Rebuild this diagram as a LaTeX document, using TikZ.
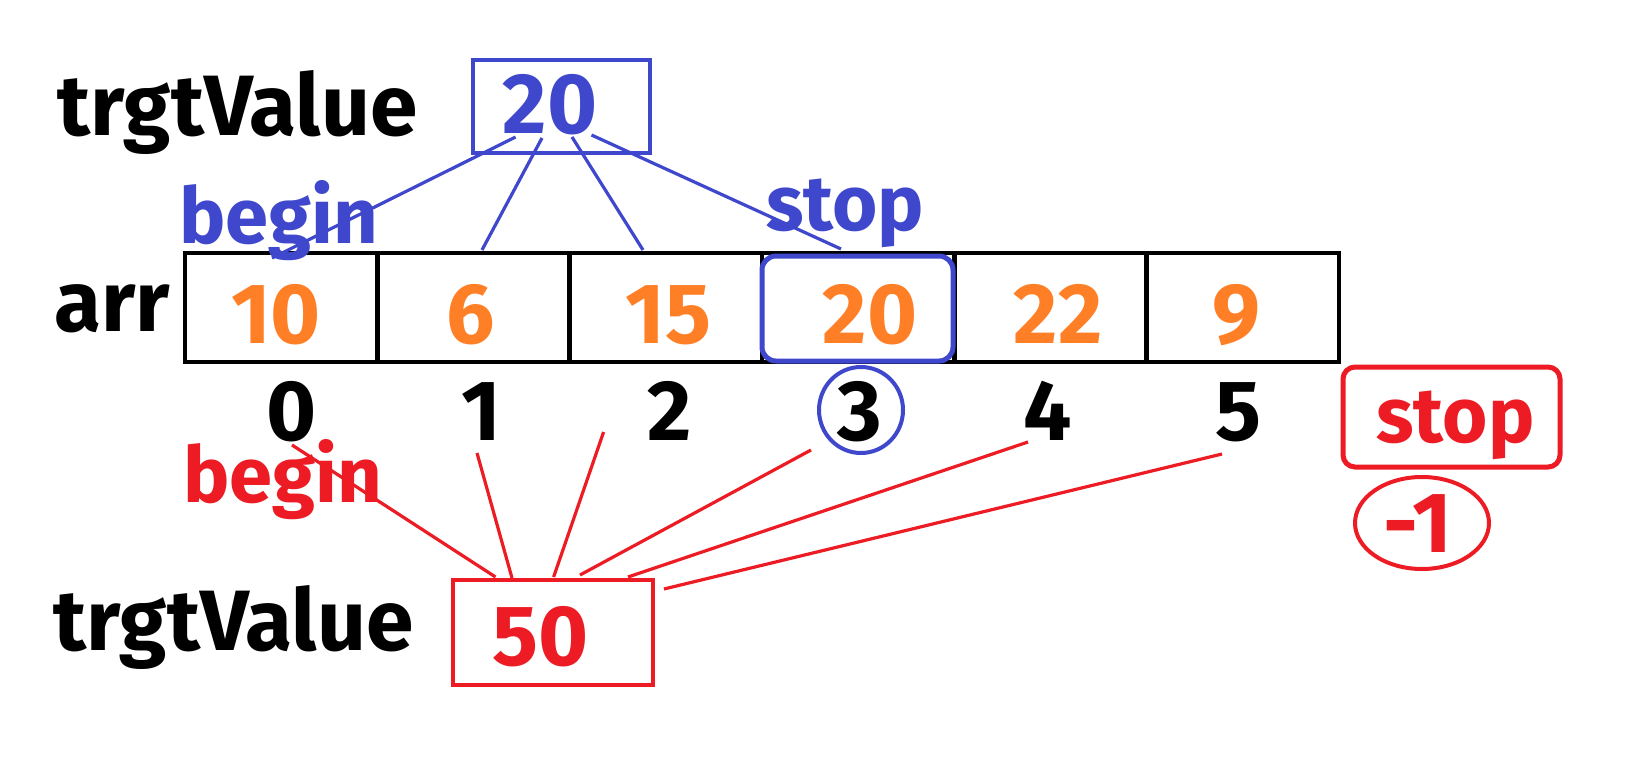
\documentclass[tikz,border=0pt]{standalone}
\usepackage{fontspec}
\setmainfont{Fira Sans}
\usetikzlibrary{shapes.geometric}
\definecolor{pblue}{HTML}{3F48CC}
\definecolor{porange}{HTML}{FF7F27}
\definecolor{pred}{HTML}{ED1C24}
\tikzset{
  txt/.style={inner sep=0pt, font=\fontsize{43}{43}\selectfont\bfseries},
  small/.style={inner sep=0pt, font=\fontsize{39}{39}\selectfont\bfseries},
  cell/.style={draw=black, line width=2.4bp, minimum width=96.17bp, minimum height=54.5bp, inner sep=0pt},
  bline/.style={draw=pblue, line width=1.6bp},
  rline/.style={draw=pred, line width=1.6bp},
}
\begin{document}
\begin{tikzpicture}[x=0.5bp,y=-0.5bp]
\useasboundingbox[fill=white] (0,0) rectangle (1634,784);
% top target
\node[txt, anchor=base west] (tv1lbl) at (57,135) {trgtValue};
\node[draw=pblue, line width=2bp, minimum width=88.5bp, minimum height=46.5bp, inner sep=0pt] (tv1) at (561.5,106.5) {};
\node[txt, text=pblue, anchor=base] (tv1val) at (550,133) {20};
% array
\node[txt, anchor=base west] (arr) at (54,331) {arr};
\foreach \i/\x in {0/281.2,1/473.5,2/665.8,3/858.2,4/1050.5,5/1242.8}
  \node[cell] (c\i) at (\x,307.5) {};
\node[draw=pblue, line width=2.5bp, rounded corners=7bp, minimum width=95.5bp, minimum height=52.5bp, inner sep=0pt] (hit) at (857.5,308.5) {};
\foreach \i/\x/\v in {0/276/10,1/470.5/6,2/668.5/15,3/870/20,4/1058/22,5/1236/9}
  \node[txt, text=porange, anchor=base] (v\i) at (\x,343) {\v};
\foreach \i/\x in {0/292,1/481,2/670,3/860,4/1048,5/1238}
  \node[txt, anchor=base] (i\i) at (\x,440) {\i};
\node[draw=pblue, line width=2bp, ellipse, minimum width=42bp, minimum height=43bp, inner sep=0pt] (circ3) at (861,410) {};
% blue labels
\node[small, text=pblue, anchor=base west] (bbegin) at (179,243) {begin};
\node[small, text=pblue, anchor=base west] (bstop) at (766,230) {stop};
% blue connectors
\coordinate (bs1) at (515.6,137); \coordinate (be1) at (272,258);
\coordinate (bs2) at (542,138);   \coordinate (be2) at (482,250);
\coordinate (bs3) at (572,137);   \coordinate (be3) at (643,250);
\coordinate (bs4) at (591.5,135); \coordinate (be4) at (841,249);
\draw[bline] (bs1) -- (be1);
\draw[bline] (bs2) -- (be2);
\draw[bline] (bs3) -- (be3);
\draw[bline] (bs4) -- (be4);
% bottom target
\node[txt, anchor=base west] (tv2lbl) at (53,650) {trgtValue};
\node[draw=pred, line width=2bp, minimum width=100bp, minimum height=52.5bp, inner sep=0pt] (tv2) at (553,632.5) {};
\node[txt, text=pred, anchor=base] (tv2val) at (541,665) {50};
\node[small, text=pred, anchor=base west] (rbegin) at (183,502) {begin};
\node[draw=pred, line width=2.5bp, rounded corners=6bp, minimum width=108.5bp, minimum height=50bp, inner sep=0pt] (rstopbox) at (1451.5,417) {};
\node[small, text=pred, anchor=base west] (rstop) at (1376,442) {stop};
\node[draw=pred, line width=2bp, ellipse, minimum width=67bp, minimum height=46bp, inner sep=0pt] (mone) at (1422,523) {};
\node[txt, text=pred, anchor=base] (monelbl) at (1418,552) {-1};
% red connectors
\coordinate (rs1) at (292,445);  \coordinate (re1) at (495.5,577);
\coordinate (rs2) at (477,453);  \coordinate (re2) at (512,578);
\coordinate (rs3) at (603.6,432);\coordinate (re3) at (553.6,577);
\coordinate (rs4) at (811,450);  \coordinate (re4) at (580,575);
\coordinate (rs5) at (1028,442); \coordinate (re5) at (628,577);
\coordinate (rs6) at (1222,454); \coordinate (re6) at (664,589);
\foreach \k in {1,...,6} \draw[rline] (rs\k) -- (re\k);
\end{tikzpicture}
\end{document}
